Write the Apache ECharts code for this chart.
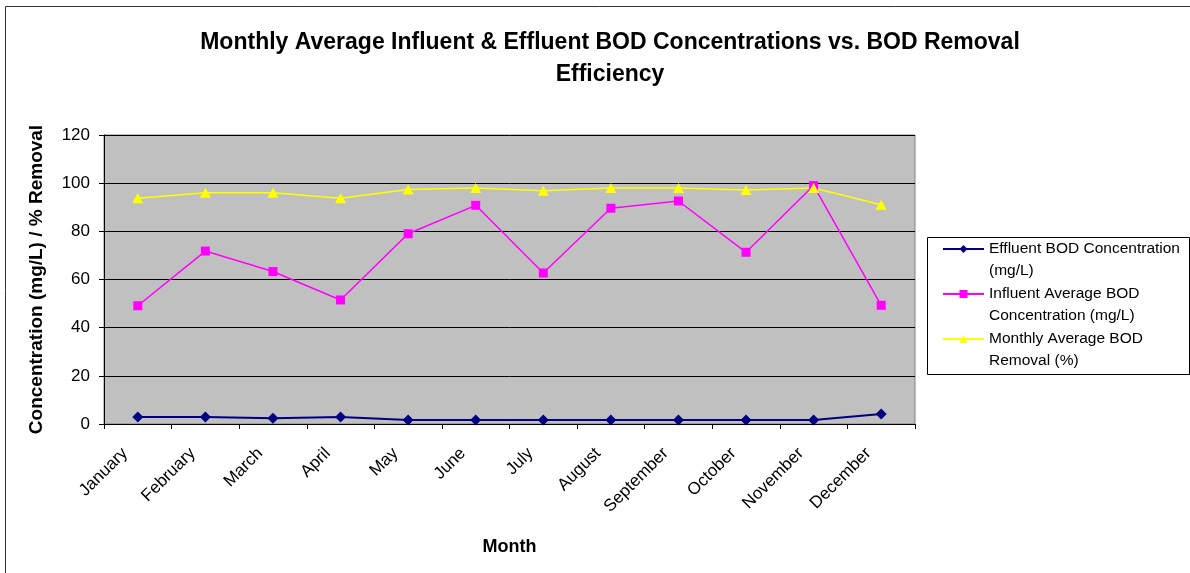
<!DOCTYPE html>
<html>
<head>
<meta charset="utf-8">
<title>BOD chart</title>
<script src="https://cdn.jsdelivr.net/npm/echarts@6/dist/echarts.min.js"></script>
<style>
  html, body { margin: 0; padding: 0; background: #fff; }
  #main { width: 1190px; height: 573px; }
</style>
</head>
<body>
<div id="main"></div>
<script>
// data
let months = ["January", "February", "March", "April", "May", "June",
  "July", "August", "September", "October", "November", "December"];
let effluent = [2.9, 2.9, 2.4, 2.9, 1.7, 1.7, 1.7, 1.7, 1.7, 1.7, 1.7, 4.2];
let influent = [49.1, 71.8, 63.3, 51.5, 79.0, 90.8, 62.7, 89.6, 92.6, 71.3, 99.0, 49.3];
let removal = [93.7, 96.0, 96.0, 93.7, 97.4, 98.0, 96.8, 98.0, 98.0, 97.2, 98.0, 91.0];
let yTicks = { min: 0, max: 120, interval: 20 };

let seriesNames = [
  "Effluent BOD Concentration (mg/L)",
  "Influent Average BOD Concentration (mg/L)",
  "Monthly Average BOD Removal (%)"
];
// leading blank line so the first text line sits level with the legend icon
let legendLabels = {
  "Effluent BOD Concentration (mg/L)": "\nEffluent BOD Concentration\n(mg/L)",
  "Influent Average BOD Concentration (mg/L)": "\nInfluent Average BOD\nConcentration (mg/L)",
  "Monthly Average BOD Removal (%)": "\nMonthly Average BOD\nRemoval (%)"
};

let font = "'Liberation Sans', Arial, sans-serif";
let chart = echarts.init(document.getElementById("main"));

let option = {
  animation: false,
  backgroundColor: "#fff",
  textStyle: { fontFamily: font, color: "#000" },
  title: {
    text: "Monthly Average Influent & Effluent BOD Concentrations vs. BOD Removal\nEfficiency",
    left: 605,
    top: 22,
    textAlign: "center",
    textStyle: { fontFamily: font, fontSize: 23, fontWeight: "bold", color: "#000", lineHeight: 32, align: "center" }
  },
  graphic: [
    {
      // outer chart border
      type: "rect",
      shape: { x: 5.5, y: 6.5, width: 1300, height: 700 },
      style: { fill: "none", stroke: "#333", lineWidth: 1 },
      silent: true
    },
    {
      // legend box
      type: "rect",
      shape: { x: 927.5, y: 237.5, width: 262, height: 137 },
      style: { fill: "none", stroke: "#000", lineWidth: 1 },
      silent: true
    }
  ],
  legend: {
    orient: "vertical",
    left: 942,
    top: 216,
    padding: 0,
    itemGap: -21,
    itemWidth: 41,
    itemHeight: 10,
    data: seriesNames,
    formatter: function (name) { return legendLabels[name]; },
    textStyle: { fontFamily: font, fontSize: 15.5, color: "#000", lineHeight: 22 }
  },
  grid: {
    left: 104,
    right: 275,
    top: 135,
    bottom: 149,
    show: true,
    backgroundColor: "#c0c0c0",
    borderColor: "#808080",
    borderWidth: 1
  },
  xAxis: {
    type: "category",
    data: months,
    boundaryGap: true,
    name: "Month",
    nameLocation: "middle",
    nameGap: 114,
    nameTextStyle: { fontFamily: font, fontSize: 18, fontWeight: "bold", color: "#000" },
    axisLine: { lineStyle: { color: "#000", width: 1 } },
    axisTick: { show: true, length: 5, lineStyle: { color: "#000" } },
    axisLabel: { interval: 0, rotate: 45, margin: 14, padding: [0, 18, 0, 0], fontSize: 17, color: "#000", fontFamily: font },
    splitLine: { show: false }
  },
  yAxis: {
    type: "value",
    min: yTicks.min,
    max: yTicks.max,
    interval: yTicks.interval,
    name: "Concentration (mg/L) / % Removal",
    nameLocation: "middle",
    nameGap: 58,
    nameTextStyle: { fontFamily: font, fontSize: 19, fontWeight: "bold", color: "#000" },
    axisLine: { show: true, lineStyle: { color: "#000", width: 1 } },
    axisTick: { show: true, length: 5, lineStyle: { color: "#000" } },
    axisLabel: { margin: 14, fontSize: 17, color: "#000", fontFamily: font },
    splitLine: { show: true, lineStyle: { color: "#000", width: 1 } }
  },
  series: [
    {
      name: seriesNames[0],
      type: "line",
      data: effluent,
      symbol: "diamond",
      symbolSize: 11,
      color: "#000080",
      lineStyle: { color: "#000080", width: 2 },
      itemStyle: { color: "#000080" }
    },
    {
      name: seriesNames[1],
      type: "line",
      data: influent,
      symbol: "rect",
      symbolSize: 9,
      color: "#ff00ff",
      lineStyle: { color: "#ff00ff", width: 1.5 },
      itemStyle: { color: "#ff00ff" }
    },
    {
      name: seriesNames[2],
      type: "line",
      data: removal,
      symbol: "triangle",
      symbolSize: [11, 10],
      color: "#ffff00",
      lineStyle: { color: "#ffff00", width: 1.5 },
      itemStyle: { color: "#ffff00" }
    }
  ]
};

chart.setOption(option);
</script>
</body>
</html>
